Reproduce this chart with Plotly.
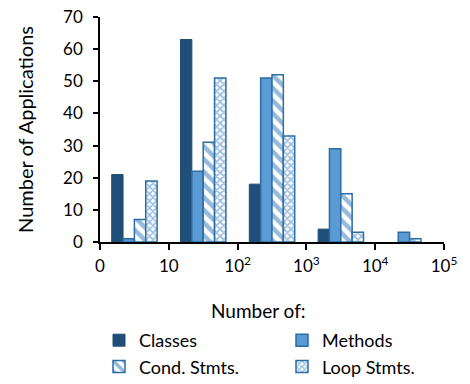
import plotly.graph_objects as go

# Histogram bins (decades) and application counts per metric
bin_centers = [0.5, 1.5, 2.5, 3.5, 4.5]
tick_values = [0, 1, 2, 3, 4, 5]
tick_labels = ["0", "10", "10<sup>2</sup>", "10<sup>3</sup>", "10<sup>4</sup>", "10<sup>5</sup>"]

classes = [21, 63, 18, 4, 0]
methods = [1, 22, 51, 29, 3]
cond_stmts = [7, 31, 52, 15, 1]
loop_stmts = [19, 51, 33, 3, 0]

FONT = "Lato"
DARK = "#1F4E79"
MID = "#5B9BD5"
EDGE = "#2E6DA4"

# plot area in pixels
L, R, T, B = 100, 444, 17, 242
W, H = R - L, B - T


def px_x(p):
    return (p - L) / W


def px_y(p):
    return (B - p) / H


def nonzero(vals):
    # empty bins get no bar at all
    return [v if v else None for v in vals]


fig = go.Figure()
fig.add_trace(go.Bar(
    x=bin_centers, y=nonzero(classes), name="Classes", legend="legend", legendgroup="a",
    marker=dict(color=DARK, line=dict(color=DARK, width=1)),
))
fig.add_trace(go.Bar(
    x=bin_centers, y=nonzero(methods), name="Methods", legend="legend2", legendgroup="b",
    marker=dict(color=MID, line=dict(color=EDGE, width=1.5)),
))
fig.add_trace(go.Bar(
    x=bin_centers, y=nonzero(cond_stmts), name="Cond. Stmts.", legend="legend", legendgroup="c",
    marker=dict(color="white", line=dict(color=EDGE, width=1.5),
                pattern=dict(shape="\\", fgcolor="#2E75B6", bgcolor="white",
                             size=9, solidity=0.5)),
))
fig.add_trace(go.Bar(
    x=bin_centers, y=nonzero(loop_stmts), name="Loop Stmts.", legend="legend2", legendgroup="d",
    marker=dict(color="white", line=dict(color=EDGE, width=1.5),
                pattern=dict(shape="x", fgcolor="#3F84C8", bgcolor="white",
                             size=5, solidity=0.6)),
))

legend_common = dict(
    orientation="v", yanchor="top", xanchor="left",
    font=dict(family=FONT, size=18), bgcolor="rgba(0,0,0,0)",
    tracegroupgap=15, traceorder="normal",
)

fig.update_layout(
    width=470, height=384,
    margin=dict(l=L, r=470 - R, t=T, b=384 - B, autoexpand=False),
    paper_bgcolor="white", plot_bgcolor="white",
    font=dict(family=FONT, size=17, color="black"),
    barmode="group", bargap=0.34, bargroupgap=0,
    showlegend=True,
    legend=dict(x=px_x(99), y=px_y(322), **legend_common),
    legend2=dict(x=px_x(282), y=px_y(322), **legend_common),
    annotations=[dict(
        text="Number of:", x=px_x(258), y=px_y(310), xref="paper", yref="paper",
        xanchor="center", yanchor="middle",
        showarrow=False, font=dict(family=FONT, size=19),
    )],
)

fig.update_xaxes(
    range=[0, 5], tickvals=tick_values, ticktext=tick_labels,
    showline=True, linecolor="black", linewidth=1.5,
    ticks="outside", ticklen=6, tickcolor="black", tickwidth=1.5,
    showgrid=False, zeroline=False, ticklabelstandoff=2,
    tickfont=dict(family=FONT, size=17),
)
fig.update_yaxes(
    range=[0, 70], dtick=10,
    title=dict(text="Number of Applications", font=dict(family=FONT, size=20), standoff=24),
    showline=True, linecolor="black", linewidth=1.5,
    ticks="outside", ticklen=5, tickcolor="black", tickwidth=1.5,
    showgrid=False, zeroline=False, ticklabelstandoff=7,
    tickfont=dict(family=FONT, size=17),
)

fig.write_html("out.html")
